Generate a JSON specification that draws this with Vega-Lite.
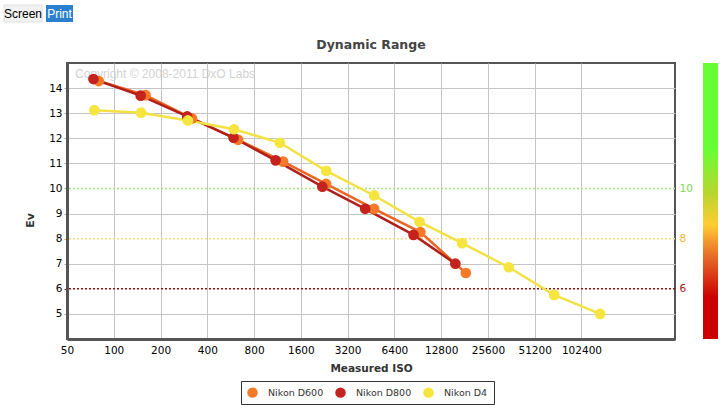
{
  "$schema": "https://vega.github.io/schema/vega-lite/v6.json",
  "background": "white",
  "padding": {"left": 3, "top": 4, "right": 0, "bottom": 0},
  "config": {
    "font": "DejaVu Sans",
    "view": {"stroke": null},
    "axis": {"gridColor": "#c4c4c4", "gridWidth": 1}
  },
  "datasets": {
    "pts": [
      {"camera": "Nikon D600", "iso": 80, "ev": 14.28},
      {"camera": "Nikon D600", "iso": 160, "ev": 13.72},
      {"camera": "Nikon D600", "iso": 319, "ev": 12.79},
      {"camera": "Nikon D600", "iso": 632, "ev": 11.94},
      {"camera": "Nikon D600", "iso": 1230, "ev": 11.07},
      {"camera": "Nikon D600", "iso": 2325, "ev": 10.18},
      {"camera": "Nikon D600", "iso": 4740, "ev": 9.19},
      {"camera": "Nikon D600", "iso": 9400, "ev": 8.26},
      {"camera": "Nikon D600", "iso": 18450, "ev": 6.63},
      {"camera": "Nikon D800", "iso": 74, "ev": 14.36},
      {"camera": "Nikon D800", "iso": 149, "ev": 13.70},
      {"camera": "Nikon D800", "iso": 297, "ev": 12.87},
      {"camera": "Nikon D800", "iso": 590, "ev": 12.02},
      {"camera": "Nikon D800", "iso": 1101, "ev": 11.12},
      {"camera": "Nikon D800", "iso": 2200, "ev": 10.07},
      {"camera": "Nikon D800", "iso": 4150, "ev": 9.19},
      {"camera": "Nikon D800", "iso": 8500, "ev": 8.15},
      {"camera": "Nikon D800", "iso": 15800, "ev": 7.0},
      {"camera": "Nikon D4", "iso": 75, "ev": 13.12},
      {"camera": "Nikon D4", "iso": 150, "ev": 13.02},
      {"camera": "Nikon D4", "iso": 300, "ev": 12.71},
      {"camera": "Nikon D4", "iso": 594, "ev": 12.36},
      {"camera": "Nikon D4", "iso": 1174, "ev": 11.82},
      {"camera": "Nikon D4", "iso": 2330, "ev": 10.70},
      {"camera": "Nikon D4", "iso": 4740, "ev": 9.72},
      {"camera": "Nikon D4", "iso": 9300, "ev": 8.67},
      {"camera": "Nikon D4", "iso": 17450, "ev": 7.82},
      {"camera": "Nikon D4", "iso": 34850, "ev": 6.86},
      {"camera": "Nikon D4", "iso": 68300, "ev": 5.76},
      {"camera": "Nikon D4", "iso": 135000, "ev": 5.0}
    ],
    "thr": [{"ev": 10}, {"ev": 8}, {"ev": 6}],
    "btn": [{"b": "Screen"}, {"b": "Print"}],
    "note": [{"t": "Copyright © 2008-2011 DxO Labs"}],
    "bar": [{"k": 1}]
  },
  "spacing": 14,
  "vconcat": [
    {
      "width": 73,
      "height": 17,
      "data": {"name": "btn"},
      "encoding": {
        "x": {"field": "b", "type": "nominal", "scale": {"domain": ["Screen", "Print"], "paddingInner": 0, "paddingOuter": 0, "range": [-62.25, 10.75]}, "axis": null}
      },
      "layer": [
        {"transform": [{"filter": "datum.b == 'Screen'"}], "mark": {"type": "rect", "width": 38, "fill": "#f2f2f2", "stroke": "#e0e0e0", "strokeWidth": 1}},
        {"transform": [{"filter": "datum.b == 'Print'"}], "mark": {"type": "rect", "width": 27, "fill": "#2b7fcf"}},
        {
          "mark": {"type": "text", "font": "Liberation Sans", "fontSize": 12, "baseline": "middle"},
          "encoding": {
            "text": {"field": "b"},
            "color": {"condition": {"test": "datum.b == 'Print'", "value": "#ffffff"}, "value": "#000000"}
          }
        }
      ]
    },
    {
      "spacing": 9,
      "hconcat": [
        {
          "width": 608,
          "height": 276,
          "view": {"stroke": "#555555", "strokeWidth": 2},
          "title": {"text": "Dynamic Range", "font": "DejaVu Sans", "fontSize": 12.5, "fontWeight": "bold", "color": "#444444", "offset": 12, "anchor": "middle"},
          "resolve": {"axis": {"y": "independent"}},
          "layer": [
            {
              "data": {"name": "thr"},
              "mark": {"type": "rule", "strokeWidth": 1.5, "strokeDash": [2, 2]},
              "encoding": {
                "y": {
                  "field": "ev", "type": "quantitative",
                  "scale": {"domain": [4, 15], "nice": false, "zero": false},
                  "axis": {
                    "orient": "right", "values": [6, 8, 10], "title": null, "grid": false, "domain": false, "ticks": false,
                    "labelPadding": 4, "labelFont": "DejaVu Sans", "labelFontSize": 10.5,
                    "labelColor": {"condition": [{"test": "datum.value == 10", "value": "#7ed957"}, {"test": "datum.value == 8", "value": "#f2b630"}], "value": "#a31515"}
                  }
                },
                "stroke": {"condition": [{"test": "datum.ev == 10", "value": "#a4e88e"}, {"test": "datum.ev == 8", "value": "#f8d985"}], "value": "#8e1010"}
              }
            },
            {
              "data": {"name": "note"},
              "mark": {"type": "text", "align": "left", "baseline": "top", "dx": 8, "dy": 6, "font": "Liberation Sans", "fontSize": 12, "color": "#d2d2d2"},
              "encoding": {
                "x": {"datum": 50, "type": "quantitative"},
                "y": {"datum": 15, "type": "quantitative", "axis": null},
                "text": {"field": "t"}
              }
            },
            {
              "data": {"name": "pts"},
              "mark": {"type": "line", "strokeWidth": 2.5},
              "encoding": {
                "x": {
                  "field": "iso", "type": "quantitative",
                  "scale": {"type": "log", "base": 2, "domain": [50, 409600], "nice": false},
                  "axis": {
                    "title": "Measured ISO", "titleFont": "DejaVu Sans", "titleFontSize": 10.5, "titleFontWeight": "bold", "titleColor": "#333333", "titlePadding": 8,
                    "values": [50, 100, 200, 400, 800, 1600, 3200, 6400, 12800, 25600, 51200, 102400],
                    "format": "d", "labelFlush": false, "labelOverlap": false, "labelBound": false,
                    "labelFont": "DejaVu Sans", "labelFontSize": 10.5, "labelColor": "#000000", "labelPadding": 6,
                    "ticks": false, "tickSize": 0, "domainColor": "#555555", "domainWidth": 3, "grid": true
                  }
                },
                "y": {
                  "field": "ev", "type": "quantitative",
                  "scale": {"domain": [4, 15], "nice": false, "zero": false},
                  "axis": {
                    "title": "Ev", "titleFont": "DejaVu Sans", "titleFontSize": 11, "titleFontWeight": "bold", "titleColor": "#333333",
                    "titleX": -32, "titleY": 157,
                    "values": [5, 6, 7, 8, 9, 10, 11, 12, 13, 14], "format": "d",
                    "labelFont": "DejaVu Sans", "labelFontSize": 10.5, "labelColor": "#000000", "labelPadding": 2,
                    "tickSize": 3,
                    "tickColor": {"condition": [{"test": "datum.value == 10", "value": "#7ed957"}, {"test": "datum.value == 8", "value": "#f2b630"}, {"test": "datum.value == 6", "value": "#a31515"}], "value": "#aaaaaa"},
                    "domainColor": "#555555", "domainWidth": 3, "grid": true,
                    "gridColor": {"condition": {"test": "datum.value == 6 || datum.value == 8 || datum.value == 10", "value": "transparent"}, "value": "#c4c4c4"}
                  }
                },
                "detail": {"field": "camera", "type": "nominal"},
                "stroke": {
                  "condition": [
                    {"test": "datum.camera == 'Nikon D600'", "value": "#ec6524"},
                    {"test": "datum.camera == 'Nikon D800'", "value": "#b01f19"}
                  ],
                  "value": "#f3e143"
                }
              }
            },
            {
              "data": {"name": "pts"},
              "mark": {"type": "point", "shape": "circle", "filled": true, "opacity": 1, "size": 115},
              "encoding": {
                "x": {"field": "iso", "type": "quantitative"},
                "y": {"field": "ev", "type": "quantitative", "axis": null},
                "color": {
                  "field": "camera", "type": "nominal",
                  "scale": {"domain": ["Nikon D600", "Nikon D800", "Nikon D4"], "range": ["#f47a28", "#c4221c", "#f6e53e"]},
                  "legend": {
                    "orient": "none", "legendX": 174, "legendY": 376, "direction": "horizontal", "title": null,
                    "symbolType": "circle", "symbolSize": 110, "symbolStrokeWidth": 0, "symbolOpacity": 1,
                    "labelFont": "DejaVu Sans", "labelFontSize": 9.5, "labelColor": "#333333",
                    "padding": 6, "strokeColor": "#333333", "fillColor": "#ffffff", "columnPadding": 11, "labelOffset": 10
                  }
                }
              }
            }
          ]
        },
        {
          "width": 15,
          "height": 276,
          "title": {"text": " ", "font": "DejaVu Sans", "fontSize": 12.5, "fontWeight": "bold", "offset": 12},
          "data": {"name": "bar"},
          "mark": {
            "type": "rect",
            "fill": {
              "gradient": "linear", "x1": 0, "y1": 1, "x2": 0, "y2": 0,
              "stops": [
                {"offset": 0, "color": "#cc0000"},
                {"offset": 0.15, "color": "#cc0000"},
                {"offset": 0.305, "color": "#e8702a"},
                {"offset": 0.414, "color": "#ffcc33"},
                {"offset": 0.527, "color": "#b8d62e"},
                {"offset": 0.69, "color": "#66ff33"},
                {"offset": 1, "color": "#66ff33"}
              ]
            }
          },
          "encoding": {}
        }
      ]
    }
  ]
}
